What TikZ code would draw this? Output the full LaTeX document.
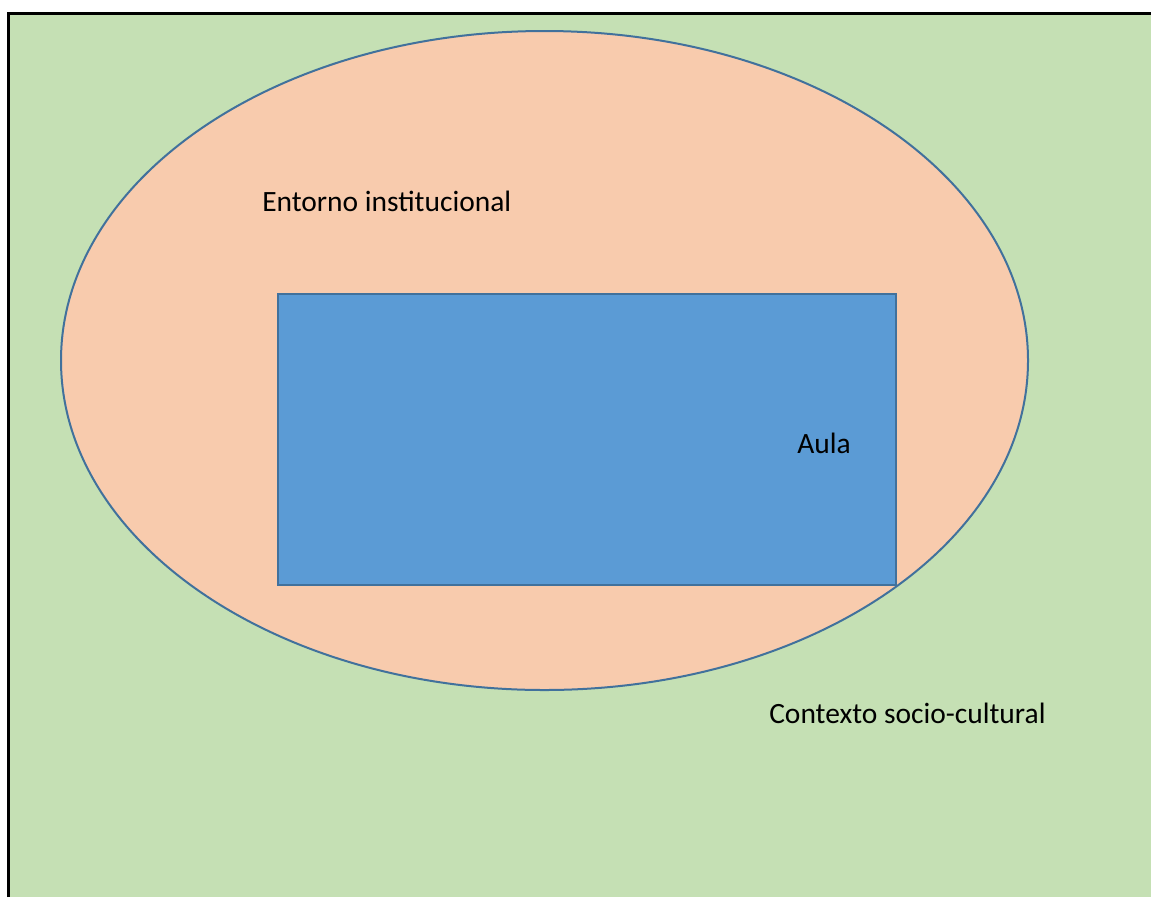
\documentclass[tikz,border=0pt]{standalone}
\usepackage{fontspec}
\setmainfont{Carlito}
\definecolor{contexto}{HTML}{C5E0B4}
\definecolor{entorno}{HTML}{F8CBAD}
\definecolor{aula}{HTML}{5B9BD5}
\definecolor{borde}{HTML}{41719C}
\tikzset{label text/.style={font=\fontsize{22.1}{26}\selectfont, anchor=base west, inner sep=0pt}}

\begin{document}
\begin{tikzpicture}[x=0.75pt,y=-0.75pt]
  \useasboundingbox (0,0) rectangle (1151,897);
  \fill[white] (0,0) rectangle (1151,897);
  % contexto: only left and top edges are visible
  \fill[contexto] (8.5,13.5) rectangle (1151,897);
  \draw[line width=2.2pt] (8.5,897) -- (8.5,13.5) -- (1151,13.5);
  \draw[fill=entorno, draw=borde, line width=1.5pt] (544.5,360.5) ellipse [x radius=483.5, y radius=329.5];
  \draw[fill=aula, draw=borde, line width=1.5pt] (277.5,293.5) rectangle (895.5,584.5);
  \node[label text] (entorno) at (262,211) {Entorno institucional};
  \node[label text] (aula) at (797,453) {Aula};
  \node[label text] (contexto) at (769,723) {Contexto socio-cultural};
\end{tikzpicture}
\end{document}
